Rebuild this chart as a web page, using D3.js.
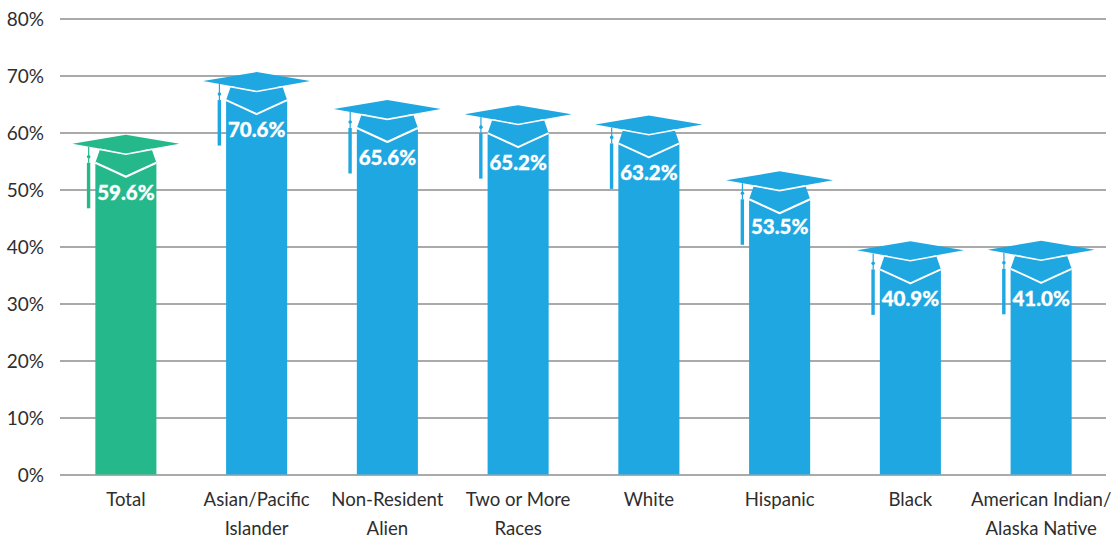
<!DOCTYPE html>
<html>
<head>
<meta charset="utf-8">
<script src="https://cdn.jsdelivr.net/npm/d3@7"></script>
<style>
  html, body { margin: 0; padding: 0; background: #fff; }
  svg { display: block; }
  text { font-family: Lato, sans-serif; fill: #333; }
</style>
</head>
<body>
<svg id="chart" width="1114" height="539"></svg>
<script>
// values
const categories = ["Total", "Asian/Pacific Islander", "Non-Resident Alien", "Two or More Races", "White", "Hispanic", "Black", "American Indian/ Alaska Native"];
const values = [59.6, 70.6, 65.6, 65.2, 63.2, 53.5, 40.9, 41.0];
// the drawn heights are a little off the printed labels in the original
const drawnHeights = [59.6, 70.6, 65.7, 64.8, 63.0, 53.2, 40.9, 41.0];
const barColors = ["#25b88a", "#1fa7e1", "#1fa7e1", "#1fa7e1", "#1fa7e1", "#1fa7e1", "#1fa7e1", "#1fa7e1"];
const yTicks = [0, 10, 20, 30, 40, 50, 60, 70, 80];
// wrapped category labels
const xLines = [["Total"], ["Asian/Pacific", "Islander"], ["Non-Resident", "Alien"], ["Two or More", "Races"], ["White"], ["Hispanic"], ["Black"], ["American Indian/", "Alaska Native"]];

const svg = d3.select("#chart");

const x = d3.scaleBand().domain(categories).range([60.5, 1106.5]).paddingInner(0.533).paddingOuter(0.2665);
const y = d3.scaleLinear().domain([0, 80]).range([474.5, 18.5]);

// axes
const yAxis = svg.append("g")
    .attr("transform", "translate(60,0)")
    .call(d3.axisLeft(y).tickValues(yTicks).tickSize(-1046).tickFormat(d => d + "%"));
yAxis.select(".domain").remove();
yAxis.selectAll("line").attr("stroke", "#8e8e8e").attr("stroke-width", 1.3);
yAxis.selectAll("text")
    .attr("x", -16)
    .attr("dy", "0.36em")
    .style("font-size", "19px")
    .style("font-family", "Lato, sans-serif")
    .style("fill", "#2e2e2e");

const xAxis = svg.append("g")
    .attr("transform", "translate(0,474.5)")
    .call(d3.axisBottom(x).tickSize(0).tickFormat(""));
xAxis.select(".domain").remove();
xAxis.selectAll(".tick").each(function(d, i) {
    const t = d3.select(this).select("text")
        .attr("y", 0).attr("dy", null)
        .style("font-size", "18.6px")
        .style("font-family", "Lato, sans-serif")
        .style("fill", "#2e2e2e");
    xLines[i].forEach((line, j) => {
        t.append("tspan").attr("x", 0).attr("y", 31 + j * 29).text(line);
    });
});

// bars with the graduation hat on top
const bars = svg.selectAll("g.bar")
    .data(drawnHeights)
    .join("g")
    .attr("class", "bar")
    .attr("transform", (d, i) => `translate(${x(categories[i]) + x.bandwidth() / 2},${y(d)})`);

bars.each(function(d, i) {
    const g = d3.select(this);
    const w = x.bandwidth() / 2;
    const color = barColors[i];
    // body
    g.append("path")
        .attr("d", `M${-w},28 L-26,15 L26,15 L${w},28 L${w},${y(0) - y(d)} L${-w},${y(0) - y(d)} Z`)
        .attr("fill", color);
    // white chevron across the head
    g.append("path")
        .attr("d", `M${-w},28 Q-15,35 0,42 Q15,35 ${w},28`)
        .attr("fill", "none").attr("stroke", "#fff").attr("stroke-width", 2);
    // mortarboard
    g.append("path")
        .attr("d", "M0,0 L53.5,9 L0,18.5 L-53.5,9 Z")
        .attr("fill", color);
    g.append("path")
        .attr("d", "M-26,14.6 L0,19.4 L26,14.6")
        .attr("fill", "none").attr("stroke", "#fff").attr("stroke-width", 1.6);
    // tassel
    g.append("rect").attr("x", -37.8).attr("y", 12).attr("width", 1.2).attr("height", 16).attr("fill", color);
    g.append("circle").attr("cx", -37.2).attr("cy", 22).attr("r", 1.8).attr("fill", color);
    g.append("rect").attr("x", -39).attr("y", 28).attr("width", 3.4).attr("height", 45.5).attr("fill", color);
    // value label, Hispanic sits a bit higher in the original
    g.append("text")
        .attr("y", i === 5 ? 55 : 57.5)
        .attr("dy", "0.36em")
        .attr("text-anchor", "middle")
        .style("font-size", "20.5px")
        .style("font-weight", "900")
        .style("fill", "#fff")
        .style("stroke", "#fff")
        .style("stroke-width", 0.3)
        .text(values[i].toFixed(1) + "%");
});
</script>
</body>
</html>
